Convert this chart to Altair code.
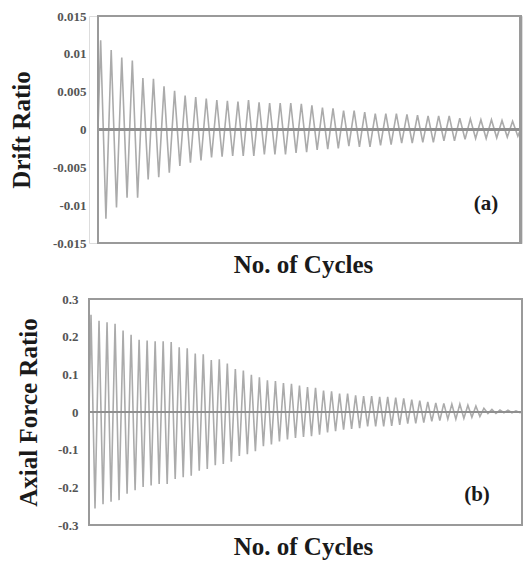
import altair as alt
import pandas as pd

SERIF = "Liberation Serif"

# ---- Panel (a): Drift Ratio, peak / trough of each cycle ----
drift_peaks = [0.0118, 0.0105, 0.0095, 0.0091, 0.0068, 0.0067, 0.0057, 0.0051, 0.0045, 0.0043,
               0.0041, 0.0039, 0.0038, 0.0037, 0.0039, 0.0036, 0.0035, 0.0035, 0.0035, 0.0034,
               0.0032, 0.0029, 0.0028, 0.0025, 0.0025, 0.0023, 0.0021, 0.0021, 0.0021, 0.0020,
               0.0019, 0.0018, 0.0018, 0.0018, 0.0015, 0.0014, 0.0013, 0.0013, 0.0012, 0.0011]
drift_troughs = [-0.0118, -0.0103, -0.0090, -0.0090, -0.0066, -0.0063, -0.0057, -0.0048, -0.0044, -0.0041,
                 -0.0037, -0.0036, -0.0035, -0.0035, -0.0035, -0.0033, -0.0033, -0.0033, -0.0031, -0.0030,
                 -0.0027, -0.0026, -0.0025, -0.0022, -0.0023, -0.0023, -0.0021, -0.0020, -0.0018, -0.0018,
                 -0.0017, -0.0017, -0.0015, -0.0015, -0.0013, -0.0012, -0.0012, -0.0011, -0.0010, -0.0009]
drift_ticks = [-0.015, -0.01, -0.005, 0, 0.005, 0.01, 0.015]

# ---- Panel (b): Axial Force Ratio ----
axial_peaks = [0.258, 0.242, 0.238, 0.234, 0.216, 0.205, 0.192, 0.190, 0.188, 0.188,
               0.186, 0.172, 0.169, 0.155, 0.153, 0.138, 0.140, 0.129, 0.114, 0.110,
               0.099, 0.092, 0.084, 0.082, 0.077, 0.075, 0.070, 0.066, 0.064, 0.057,
               0.055, 0.049, 0.049, 0.044, 0.042, 0.042, 0.040, 0.040, 0.038, 0.036,
               0.033, 0.030, 0.027, 0.024, 0.023, 0.021, 0.021, 0.018, 0.016, 0.010,
               0.007, 0.005, 0.005, 0.003]
axial_troughs = [-0.256, -0.245, -0.238, -0.234, -0.217, -0.208, -0.199, -0.195, -0.191, -0.191,
                 -0.178, -0.173, -0.169, -0.156, -0.151, -0.141, -0.138, -0.132, -0.117, -0.112,
                 -0.104, -0.091, -0.086, -0.078, -0.073, -0.069, -0.066, -0.064, -0.060, -0.054,
                 -0.051, -0.047, -0.045, -0.043, -0.038, -0.038, -0.038, -0.037, -0.034, -0.031,
                 -0.030, -0.028, -0.025, -0.023, -0.019, -0.019, -0.017, -0.014, -0.012, -0.004,
                 -0.004, -0.002, -0.002, -0.002]
axial_ticks = [-0.3, -0.2, -0.1, 0, 0.1, 0.2, 0.3]

panel_labels = ["(a)", "(b)"]
x_title = "No. of Cycles"


def cycles(peaks, troughs):
    rows = [{"cycle": 0.0, "value": 0.0}]
    for i, (p, t) in enumerate(zip(peaks, troughs)):
        rows.append({"cycle": i + 0.25, "value": p})
        rows.append({"cycle": i + 0.75, "value": t})
    rows.append({"cycle": float(len(peaks)), "value": 0.0})
    return pd.DataFrame(rows)


LINE = "#ababab"
FRAME = "#9a9a9a"
W = 433


def panel(df, n_cycles, xdom, ydom, ticks, ytitle, label, height, yoffset,
          label_pos, title_pad, label_pad):
    x = alt.X("cycle:Q",
              scale=alt.Scale(domain=xdom, nice=False, zero=False),
              axis=alt.Axis(title=x_title, labels=False, ticks=False, domain=False, grid=False,
                            titleFont=SERIF, titleFontSize=25, titleFontWeight="bold",
                            titleColor="#1a1a1a", titlePadding=9, titleX=214, titleAlign="center"))
    y = alt.Y("value:Q",
              scale=alt.Scale(domain=ydom, nice=False, zero=False),
              axis=alt.Axis(values=ticks, tickCount=len(ticks) + 2,
                            labelExpr="datum.value + ''", ticks=False, tickSize=0,
                            domain=False, grid=False, offset=yoffset, labelPadding=label_pad,
                            labelOverlap=False, labelFlush=False,
                            labelFont=SERIF, labelFontSize=13, labelFontWeight="bold",
                            labelColor="#555555", title=ytitle, titleFont=SERIF,
                            titleFontSize=25, titleFontWeight="bold", titleColor="#1a1a1a",
                            titlePadding=title_pad))
    base = alt.Chart(df)
    line = base.mark_line(color=LINE, strokeWidth=1.6, clip=True).encode(x=x, y=y)
    zero = alt.Chart(df).mark_rule(color="#8f8f8f", strokeWidth=2).encode(
        y=alt.datum(0), x=alt.datum(0), x2=alt.datum(n_cycles))
    frame = alt.Chart(df).mark_rect(fillOpacity=0, stroke=FRAME, strokeWidth=2).encode(
        x=alt.datum(0), x2=alt.datum(n_cycles), y=alt.datum(ydom[0]), y2=alt.datum(ydom[1]))
    txt = alt.Chart(pd.DataFrame({"t": [label]})).mark_text(
        font=SERIF, fontSize=21, fontWeight="bold", color="#1a1a1a").encode(
        text="t:N", x=alt.value(label_pos[0]), y=alt.value(label_pos[1]))
    return alt.layer(line, zero, frame, txt).properties(width=W, height=height)


# panel (a): frame starts 9 px right of the shared plot origin
a_px = 422.5 / 40.0
a = panel(cycles(drift_peaks, drift_troughs), 40, [-9 / a_px, 40 + 1.5 / a_px], [-0.015, 0.015],
          drift_ticks, "Drift Ratio", panel_labels[0], 227, -9, (397, 188), 18, 12)
b = panel(cycles(axial_peaks, axial_troughs), 54.0, [0, 54.0], [-0.3, 0.3],
          axial_ticks, "Axial Force Ratio", panel_labels[1], 226, 0, (388, 196), 16, 11)

chart = alt.vconcat(a, b, spacing=14).properties(
    padding={"left": 0, "top": 1, "right": 0, "bottom": 0}
).configure_view(strokeWidth=0).configure(background="white")

chart.save("out.html", embed_options={"renderer": "svg", "actions": False})
